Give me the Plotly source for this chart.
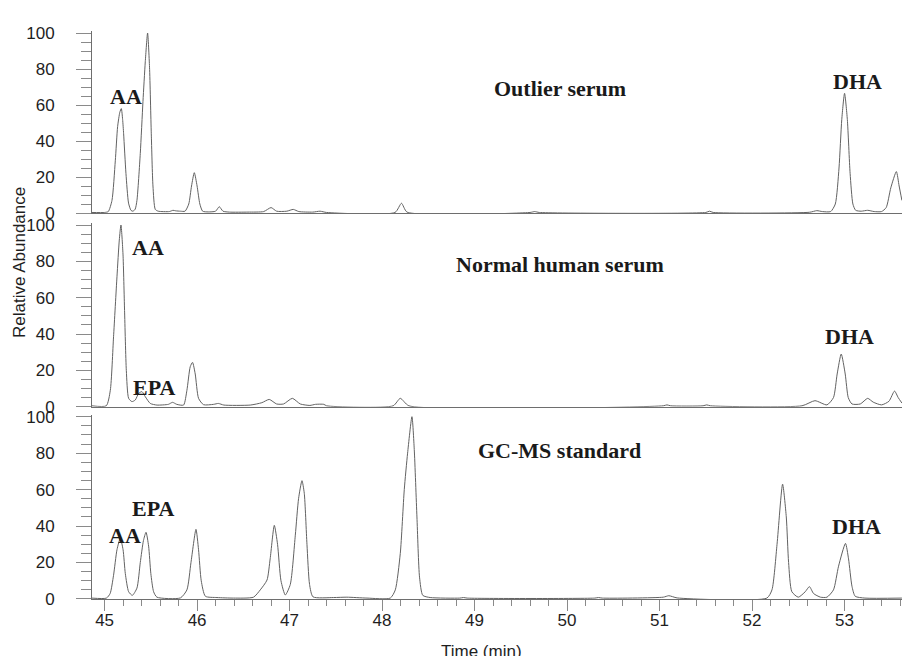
import plotly.graph_objects as go

# ---------------- data ----------------
# Panel 1: Outlier serum
t_outlier = [44.86, 45.00, 45.04, 45.08, 45.116, 45.141, 45.165, 45.181, 45.195, 45.206, 45.231, 45.259,
             45.285, 45.305, 45.33, 45.35, 45.386, 45.415, 45.44, 45.465, 45.486, 45.505, 45.523, 45.548,
             45.58, 45.70, 45.74, 45.77, 45.82, 45.87, 45.91, 45.94, 45.97, 46.00, 46.03, 46.06, 46.12,
             46.20, 46.24, 46.28, 46.35, 46.55, 46.72, 46.80, 46.86, 46.97, 47.04, 47.10, 47.25, 47.33,
             47.40, 48.14, 48.21, 48.27, 49.60, 49.65, 49.70, 51.50, 51.54, 51.58, 52.62, 52.70, 52.76,
             52.85, 52.90, 52.94, 52.97, 53.00, 53.03, 53.06, 53.09, 53.12, 53.18, 53.25, 53.32, 53.40,
             53.45, 53.50, 53.56, 53.59, 53.62]
a_outlier = [0.3, 0.3, 0.8, 7, 29, 48, 56, 58, 52, 44, 22, 5.5,
             1.5, 1, 2, 7, 33, 62, 84, 100, 81, 44, 15, 2,
             1, 0.8, 1.5, 1.2, 1, 1, 5, 15, 22.4, 15, 5, 1, 0.6,
             1, 3.5, 1, 0.5, 0.5, 0.8, 3, 1, 1, 2, 0.8, 0.5, 1,
             0.3, 0.3, 5.4, 0.5, 0.3, 0.8, 0.3, 0.3, 1, 0.3, 0.4, 1.3, 0.8,
             0.8, 5, 25, 52, 66.5, 52, 22, 5, 1.5, 1, 1.5, 0.8, 0.8,
             3, 14, 23, 15, 7]

# Panel 2: Normal human serum
t_normal = [44.86, 45.018, 45.062, 45.097, 45.134, 45.159, 45.177, 45.199, 45.216, 45.235, 45.26, 45.296,
            45.332, 45.368, 45.404, 45.44, 45.494, 45.566, 45.69, 45.735, 45.78, 45.854, 45.89, 45.926,
            45.951, 45.98, 46.016, 46.07, 46.18, 46.23, 46.29, 46.575, 46.70, 46.78, 46.86, 46.935,
            47.03, 47.116, 47.22, 47.28, 47.37, 47.40, 48.12, 48.197, 48.29, 51.04, 51.08, 51.12,
            51.47, 51.51, 51.55, 52.54, 52.68, 52.81, 52.88, 52.92, 52.964, 53.007, 53.04, 53.08,
            53.17, 53.25, 53.31, 53.40, 53.48, 53.54, 53.58, 53.62]
a_normal = [0.5, 0.5, 9, 38.5, 71.5, 91.7, 100, 84, 53, 20, 4.6, 2.8,
            3.7, 7.3, 8.3, 5.5, 1.8, 0.9, 1.3, 2.4, 1.3, 0.9, 9, 22,
            24.4, 18, 4.6, 1.1, 1.3, 1.8, 0.9, 0.9, 2.2, 4, 1.5, 1.5,
            4.6, 1.5, 0.7, 1.3, 1.3, 0.5, 0.5, 4.6, 0.5, 0.5, 1, 0.5,
            0.5, 1, 0.5, 0.5, 3.3, 1, 5, 18, 29, 18, 5, 1.5,
            1.5, 4.6, 2.5, 1, 3, 8.6, 5, 2]

# Panel 3: GC-MS standard
t_standard = [44.86, 45.02, 45.06, 45.097, 45.134, 45.17, 45.20, 45.224, 45.26, 45.30, 45.35, 45.386,
              45.42, 45.448, 45.476, 45.50, 45.53, 45.566, 45.82, 45.89, 45.934, 45.988, 46.016, 46.045,
              46.09, 46.215, 46.395, 46.61, 46.683, 46.756, 46.79, 46.835, 46.87, 46.907, 46.954, 47.008,
              47.062, 47.097, 47.134, 47.159, 47.188, 47.216, 47.253, 47.476, 47.62, 47.837, 48.089,
              48.143, 48.197, 48.24, 48.276, 48.323, 48.348, 48.377, 48.405, 48.44, 48.52, 48.84, 48.88,
              48.92, 50.30, 50.34, 50.38, 51.04, 51.10, 51.19, 52.16, 52.215, 52.27, 52.33, 52.37,
              52.395, 52.43, 52.50, 52.575, 52.62, 52.665, 52.74, 52.81, 52.88, 52.935, 53.01, 53.043,
              53.08, 53.115, 53.22, 53.62]
a_standard = [0.5, 0.5, 3, 13, 27, 33.3, 27, 14, 4, 2, 6, 20,
              32, 36.6, 29, 14, 4, 1, 0.6, 5, 20, 38.2, 27, 10,
              1.5, 0.8, 0.5, 1, 5, 10.4, 22, 40.4, 30, 10, 2.2, 8,
              35, 55, 64.9, 58, 30, 8, 1.2, 0.8, 1, 0.5, 0.5,
              5, 25, 60, 80, 100, 82, 45, 12, 2, 0.8, 0.5, 0.8,
              0.5, 0.5, 0.8, 0.5, 1, 1.8, 0.6, 0.5, 5, 30, 63, 45,
              20, 4, 1, 4, 6.8, 3, 1, 1, 5, 18, 30.5, 22,
              7, 1.5, 0.5, 0.5]

panel_names = ["Outlier serum", "Normal human serum", "GC-MS standard"]
peak_names = ["AA", "EPA", "DHA"]
y_tick_values = [0, 20, 40, 60, 80, 100]
x_tick_values = [45, 46, 47, 48, 49, 50, 51, 52, 53]

# ---------------- figure ----------------
W, H = 902, 656
ml, mr, mt, mb = 92, 0, 30, 57
x_range = [44.864, 53.621]
y_range = [0, 101]

line_col = "#626262"
axis_col = "#6e6e6e"
tick_col = "#8a8a8a"
tick_font = dict(family="Liberation Sans, Arial, sans-serif", size=17, color="#1e1e1e")
label_font = dict(family="Liberation Serif, Times New Roman, serif", size=22, color="#1a1a1a")

fig = go.Figure()
series = [(t_outlier, a_outlier), (t_normal, a_normal), (t_standard, a_standard)]
for i, (tx, ay) in enumerate(series):
    fig.add_trace(go.Scatter(
        x=tx, y=ay, mode="lines", name=panel_names[i],
        line=dict(color=line_col, width=1, shape="spline", smoothing=0.6),
        xaxis="x" if i == 0 else f"x{i+1}",
        yaxis="y" if i == 0 else f"y{i+1}",
        showlegend=False, hoverinfo="x+y",
    ))

plot_h = H - mt - mb
def dom(px_zero, px_per_unit):
    lo = (H - mb - px_zero) / plot_h
    hi = (H - mb - (px_zero - px_per_unit * y_range[1])) / plot_h
    return [lo, min(hi, 1.0)]

domains = [dom(213, 1.80), dom(406.7, 1.817), dom(599, 1.823)]

def yaxis_cfg(d, anchor):
    return dict(
        domain=d, range=y_range, anchor=anchor, automargin=False,
        tickmode="array", tickvals=y_tick_values,
        ticks="outside", ticklen=15, tickwidth=1, tickcolor=tick_col,
        minor=dict(dtick=5, ticks="outside", ticklen=10, tickcolor=tick_col, tickwidth=1),
        showline=True, linecolor=axis_col, linewidth=1,
        showgrid=False, zeroline=False,
        tickfont=tick_font, ticklabelstandoff=18,
    )

def xaxis_cfg(anchor, labels):
    cfg = dict(
        domain=[0, 1], range=x_range, anchor=anchor, automargin=False,
        showline=True, linecolor=axis_col, linewidth=1.3,
        showgrid=False, zeroline=False,
    )
    if labels:
        cfg.update(
            tickmode="array", tickvals=x_tick_values,
            ticks="outside", ticklen=11, tickwidth=1, tickcolor=tick_col,
            minor=dict(dtick=0.2, tick0=45, ticks="outside", ticklen=6, tickcolor=tick_col, tickwidth=1),
            tickfont=tick_font, showticklabels=True, ticklabelstandoff=-6,
        )
    else:
        cfg.update(ticks="", showticklabels=False, matches="x3")
    return cfg

fig.update_layout(
    template="none",
    width=W, height=H,
    margin=dict(l=ml, r=mr, t=mt, b=mb),
    paper_bgcolor="white", plot_bgcolor="white",
    xaxis=xaxis_cfg("y", False),
    xaxis2=xaxis_cfg("y2", False),
    xaxis3=xaxis_cfg("y3", True),
    yaxis=yaxis_cfg(domains[0], "x"),
    yaxis2=yaxis_cfg(domains[1], "x2"),
    yaxis3=yaxis_cfg(domains[2], "x3"),
)

# peak / panel labels: (text, x in minutes, y in abundance units, panel)
labels = [
    (peak_names[1], 45.391, 107.5, 0), (peak_names[0], 45.235, 65.0, 0),
    (panel_names[0], 49.928, 68.9, 0), (peak_names[2], 53.145, 73.3, 0),
    (peak_names[0], 45.467, 87.6, 1), (peak_names[1], 45.537, 10.8, 1),
    (panel_names[1], 49.927, 78.5, 1), (peak_names[2], 53.048, 38.9, 1),
    (peak_names[0], 45.224, 34.6, 2), (peak_names[1], 45.526, 49.4, 2),
    (panel_names[2], 49.916, 81.2, 2), (peak_names[2], 53.134, 40.0, 2),
]
for text, lx, ly, p in labels:
    fig.add_annotation(
        text=f"<b>{text}</b>", x=lx, y=ly,
        xref="x" if p == 0 else f"x{p+1}", yref="y" if p == 0 else f"y{p+1}",
        showarrow=False, xanchor="center", yanchor="middle", font=label_font,
    )

# axis titles
fig.add_annotation(text="Time (min)", x=(481 - ml) / (W - ml - mr), y=-(651 - (H - mb)) / plot_h,
                   xref="paper", yref="paper", showarrow=False,
                   xanchor="center", yanchor="middle", font=tick_font)
fig.add_annotation(text="Relative Abundance", x=-(ml - 19) / (W - ml - mr), y=(H - mb - 263) / plot_h,
                   xref="paper", yref="paper", showarrow=False, textangle=-90,
                   xanchor="center", yanchor="middle", font=tick_font)

fig.write_html("out.html", config={"displayModeBar": False},
               post_script="document.body.style.margin='0';document.body.style.overflow='hidden';")
